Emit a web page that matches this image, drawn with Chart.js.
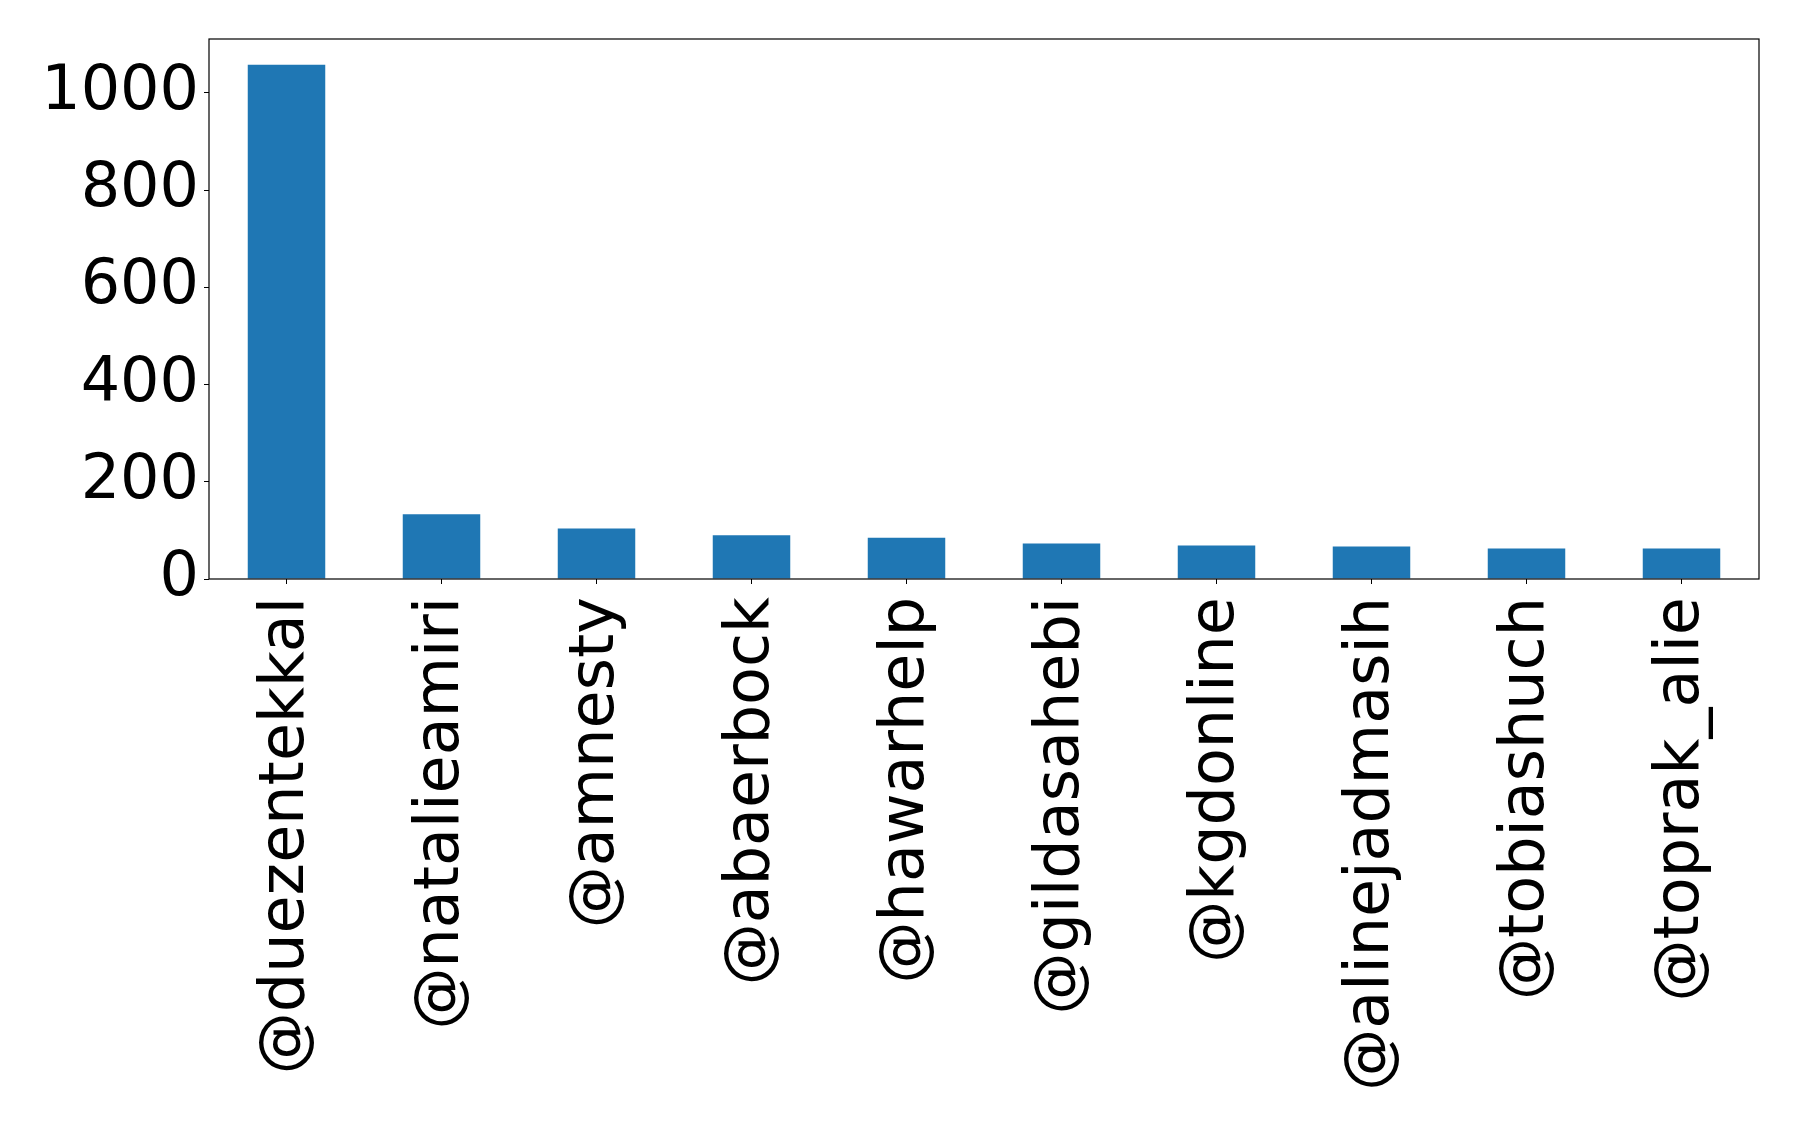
<!DOCTYPE html>
<html>
<head>
<meta charset="utf-8">
<script src="https://cdn.jsdelivr.net/npm/chart.js@4/dist/chart.umd.min.js"></script>
<style>
  body { margin: 0; background: #fff; }
  #wrap { width: 1798px; height: 1125px; }
</style>
</head>
<body>
<div id="wrap"><canvas id="chart" width="1798" height="1125"></canvas></div>
<script>
// Data
var accounts = ["@duezentekkal", "@natalieamiri", "@amnesty", "@abaerbock", "@hawarhelp",
                "@gildasahebi", "@kgdonline", "@alinejadmasih", "@tobiashuch", "@toprak_alie"];
var counts = [1058, 133, 104, 90, 85, 73, 69, 67, 63, 63];
var yTicks = [0, 200, 400, 600, 800, 1000];

var barColor = "#1f77b4";
var font = { family: "'DejaVu Sans', sans-serif", size: 62 };

// Frame round the plot area, like matplotlib spines
var frame = {
    id: "frame",
    afterDatasetsDraw: function(chart){
        var a = chart.chartArea;
        var ctx = chart.ctx;
        ctx.save();
        ctx.strokeStyle = "#000";
        ctx.lineWidth = 1.2;
        ctx.strokeRect(a.left, a.top, a.right - a.left, a.bottom - a.top);
        ctx.restore();
    }
};

var chart = new Chart(document.getElementById("chart"), {
    type: "bar",
    data: {
        labels: accounts,
        datasets: [{
            data: counts,
            backgroundColor: barColor,
            borderWidth: 0,
            barPercentage: 0.5,
            categoryPercentage: 1.0
        }]
    },
    options: {
        responsive: false,
        animation: false,
        devicePixelRatio: 1,
        layout: { padding: { top: 39, right: 39, left: 0, bottom: 0 } },
        plugins: { legend: { display: false }, tooltip: { enabled: false } },
        scales: {
            x: {
                grid: { offset: false, drawOnChartArea: false, drawTicks: true, tickLength: 5, tickColor: "#000", tickWidth: 1 },
                border: { display: false },
                ticks: { color: "#000", font: font, autoSkip: false, minRotation: 90, maxRotation: 90, padding: 13 },
                afterFit: function(scale){
                    scale.height = 546;
                    scale.paddingLeft = 0;
                    scale.paddingRight = 0;
                }
            },
            y: {
                min: 0,
                max: 1111,
                grid: { drawOnChartArea: false, drawTicks: true, tickLength: 5, tickColor: "#000", tickWidth: 1 },
                border: { display: false },
                ticks: {
                    color: "#000", font: font, stepSize: 200, includeBounds: false, padding: 5,
                    callback: function(v){ return yTicks.indexOf(v) >= 0 ? String(v) : null; }
                },
                afterFit: function(scale){
                    scale.width = 209;
                    scale.paddingTop = 0;
                    scale.paddingBottom = 0;
                }
            }
        }
    },
    plugins: [frame]
});
</script>
</body>
</html>
